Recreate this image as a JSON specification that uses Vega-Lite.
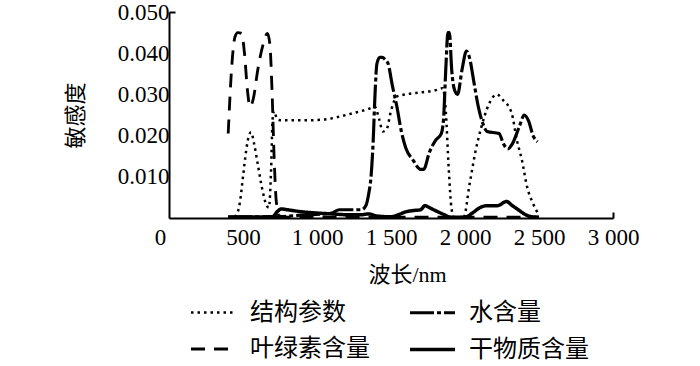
{
  "$schema": "https://vega.github.io/schema/vega-lite/v6.json",
  "width": 444,
  "height": 206,
  "autosize": {"type": "none"},
  "padding": {"left": 169, "top": 12, "right": 87, "bottom": 148},
  "background": "white",
  "config": {"view": {"stroke": null}},
  "data": {"values": [
    {"s": "结构参数", "x": 400, "y": 0.0},
    {"s": "结构参数", "x": 450, "y": 0.0005},
    {"s": "结构参数", "x": 480, "y": 0.004},
    {"s": "结构参数", "x": 500, "y": 0.010},
    {"s": "结构参数", "x": 520, "y": 0.016},
    {"s": "结构参数", "x": 540, "y": 0.020},
    {"s": "结构参数", "x": 555, "y": 0.0208},
    {"s": "结构参数", "x": 575, "y": 0.018},
    {"s": "结构参数", "x": 600, "y": 0.013},
    {"s": "结构参数", "x": 630, "y": 0.007},
    {"s": "结构参数", "x": 660, "y": 0.003},
    {"s": "结构参数", "x": 675, "y": 0.0025},
    {"s": "结构参数", "x": 690, "y": 0.012},
    {"s": "结构参数", "x": 700, "y": 0.024},
    {"s": "结构参数", "x": 710, "y": 0.026},
    {"s": "结构参数", "x": 730, "y": 0.024},
    {"s": "结构参数", "x": 760, "y": 0.0237},
    {"s": "结构参数", "x": 900, "y": 0.0237},
    {"s": "结构参数", "x": 1050, "y": 0.0239},
    {"s": "结构参数", "x": 1150, "y": 0.0246},
    {"s": "结构参数", "x": 1250, "y": 0.0255},
    {"s": "结构参数", "x": 1350, "y": 0.0265},
    {"s": "结构参数", "x": 1390, "y": 0.027},
    {"s": "结构参数", "x": 1420, "y": 0.024},
    {"s": "结构参数", "x": 1445, "y": 0.021},
    {"s": "结构参数", "x": 1470, "y": 0.0215},
    {"s": "结构参数", "x": 1500, "y": 0.026},
    {"s": "结构参数", "x": 1540, "y": 0.0295},
    {"s": "结构参数", "x": 1600, "y": 0.030},
    {"s": "结构参数", "x": 1700, "y": 0.0305},
    {"s": "结构参数", "x": 1800, "y": 0.031},
    {"s": "结构参数", "x": 1850, "y": 0.0315},
    {"s": "结构参数", "x": 1870, "y": 0.026},
    {"s": "结构参数", "x": 1890, "y": 0.012},
    {"s": "结构参数", "x": 1910, "y": 0.002},
    {"s": "结构参数", "x": 1930, "y": 0.0},
    {"s": "结构参数", "x": 1990, "y": 0.0},
    {"s": "结构参数", "x": 2030, "y": 0.008},
    {"s": "结构参数", "x": 2070, "y": 0.016},
    {"s": "结构参数", "x": 2110, "y": 0.022},
    {"s": "结构参数", "x": 2160, "y": 0.0275},
    {"s": "结构参数", "x": 2215, "y": 0.030},
    {"s": "结构参数", "x": 2260, "y": 0.0285},
    {"s": "结构参数", "x": 2315, "y": 0.0255},
    {"s": "结构参数", "x": 2350, "y": 0.019},
    {"s": "结构参数", "x": 2385, "y": 0.014},
    {"s": "结构参数", "x": 2420, "y": 0.0075},
    {"s": "结构参数", "x": 2460, "y": 0.0035},
    {"s": "结构参数", "x": 2495, "y": 0.001},
    {"s": "水含量", "x": 400, "y": 0.0003},
    {"s": "水含量", "x": 700, "y": 0.0003},
    {"s": "水含量", "x": 900, "y": 0.0007},
    {"s": "水含量", "x": 1100, "y": 0.0012},
    {"s": "水含量", "x": 1150, "y": 0.002},
    {"s": "水含量", "x": 1300, "y": 0.002},
    {"s": "水含量", "x": 1330, "y": 0.003},
    {"s": "水含量", "x": 1350, "y": 0.006},
    {"s": "水含量", "x": 1365, "y": 0.010},
    {"s": "水含量", "x": 1380, "y": 0.019},
    {"s": "水含量", "x": 1392, "y": 0.030},
    {"s": "水含量", "x": 1405, "y": 0.0375},
    {"s": "水含量", "x": 1425, "y": 0.039},
    {"s": "水含量", "x": 1440, "y": 0.039},
    {"s": "水含量", "x": 1460, "y": 0.0385},
    {"s": "水含量", "x": 1480, "y": 0.0375},
    {"s": "水含量", "x": 1510, "y": 0.032},
    {"s": "水含量", "x": 1540, "y": 0.027},
    {"s": "水含量", "x": 1570, "y": 0.021},
    {"s": "水含量", "x": 1600, "y": 0.017},
    {"s": "水含量", "x": 1650, "y": 0.014},
    {"s": "水含量", "x": 1700, "y": 0.0118},
    {"s": "水含量", "x": 1720, "y": 0.0118},
    {"s": "水含量", "x": 1760, "y": 0.016},
    {"s": "水含量", "x": 1800, "y": 0.0188},
    {"s": "水含量", "x": 1840, "y": 0.0205},
    {"s": "水含量", "x": 1855, "y": 0.024},
    {"s": "水含量", "x": 1870, "y": 0.036},
    {"s": "水含量", "x": 1885, "y": 0.045},
    {"s": "水含量", "x": 1895, "y": 0.045},
    {"s": "水含量", "x": 1910, "y": 0.036},
    {"s": "水含量", "x": 1930, "y": 0.031},
    {"s": "水含量", "x": 1950, "y": 0.030},
    {"s": "水含量", "x": 1980, "y": 0.036},
    {"s": "水含量", "x": 2010, "y": 0.0405},
    {"s": "水含量", "x": 2030, "y": 0.039},
    {"s": "水含量", "x": 2060, "y": 0.033},
    {"s": "水含量", "x": 2090, "y": 0.027},
    {"s": "水含量", "x": 2120, "y": 0.023},
    {"s": "水含量", "x": 2150, "y": 0.021},
    {"s": "水含量", "x": 2230, "y": 0.0205},
    {"s": "水含量", "x": 2260, "y": 0.018},
    {"s": "水含量", "x": 2290, "y": 0.0168},
    {"s": "水含量", "x": 2320, "y": 0.018},
    {"s": "水含量", "x": 2370, "y": 0.0225},
    {"s": "水含量", "x": 2400, "y": 0.025},
    {"s": "水含量", "x": 2430, "y": 0.0235},
    {"s": "水含量", "x": 2460, "y": 0.020},
    {"s": "水含量", "x": 2490, "y": 0.0185},
    {"s": "叶绿素含量", "x": 400, "y": 0.0205},
    {"s": "叶绿素含量", "x": 424, "y": 0.0368},
    {"s": "叶绿素含量", "x": 446, "y": 0.044},
    {"s": "叶绿素含量", "x": 465, "y": 0.045},
    {"s": "叶绿素含量", "x": 490, "y": 0.0448},
    {"s": "叶绿素含量", "x": 510, "y": 0.040},
    {"s": "叶绿素含量", "x": 530, "y": 0.031},
    {"s": "叶绿素含量", "x": 548, "y": 0.027},
    {"s": "叶绿素含量", "x": 570, "y": 0.029},
    {"s": "叶绿素含量", "x": 600, "y": 0.036},
    {"s": "叶绿素含量", "x": 635, "y": 0.042},
    {"s": "叶绿素含量", "x": 665, "y": 0.0448},
    {"s": "叶绿素含量", "x": 682, "y": 0.042},
    {"s": "叶绿素含量", "x": 697, "y": 0.030},
    {"s": "叶绿素含量", "x": 710, "y": 0.015},
    {"s": "叶绿素含量", "x": 725, "y": 0.004},
    {"s": "叶绿素含量", "x": 745, "y": 0.0005},
    {"s": "叶绿素含量", "x": 800, "y": 0.0002},
    {"s": "叶绿素含量", "x": 1500, "y": 0.0002},
    {"s": "叶绿素含量", "x": 2000, "y": 0.0002},
    {"s": "叶绿素含量", "x": 2500, "y": 0.0002},
    {"s": "干物质含量", "x": 400, "y": 0.0002},
    {"s": "干物质含量", "x": 700, "y": 0.0003},
    {"s": "干物质含量", "x": 730, "y": 0.0015},
    {"s": "干物质含量", "x": 760, "y": 0.0022},
    {"s": "干物质含量", "x": 800, "y": 0.002},
    {"s": "干物质含量", "x": 900, "y": 0.0015},
    {"s": "干物质含量", "x": 1000, "y": 0.0012},
    {"s": "干物质含量", "x": 1100, "y": 0.001},
    {"s": "干物质含量", "x": 1200, "y": 0.0008},
    {"s": "干物质含量", "x": 1300, "y": 0.0008},
    {"s": "干物质含量", "x": 1350, "y": 0.001},
    {"s": "干物质含量", "x": 1400, "y": 0.0005},
    {"s": "干物质含量", "x": 1500, "y": 0.0003},
    {"s": "干物质含量", "x": 1550, "y": 0.0008},
    {"s": "干物质含量", "x": 1600, "y": 0.0015},
    {"s": "干物质含量", "x": 1650, "y": 0.0018},
    {"s": "干物质含量", "x": 1700, "y": 0.002},
    {"s": "干物质含量", "x": 1730, "y": 0.003},
    {"s": "干物质含量", "x": 1760, "y": 0.0025},
    {"s": "干物质含量", "x": 1800, "y": 0.0018},
    {"s": "干物质含量", "x": 1860, "y": 0.0008},
    {"s": "干物质含量", "x": 1900, "y": 0.0002},
    {"s": "干物质含量", "x": 2000, "y": 0.0002},
    {"s": "干物质含量", "x": 2050, "y": 0.0012},
    {"s": "干物质含量", "x": 2100, "y": 0.0025},
    {"s": "干物质含量", "x": 2150, "y": 0.003},
    {"s": "干物质含量", "x": 2220, "y": 0.003},
    {"s": "干物质含量", "x": 2280, "y": 0.004},
    {"s": "干物质含量", "x": 2320, "y": 0.003},
    {"s": "干物质含量", "x": 2360, "y": 0.002},
    {"s": "干物质含量", "x": 2400, "y": 0.001},
    {"s": "干物质含量", "x": 2450, "y": 0.0003},
    {"s": "干物质含量", "x": 2500, "y": 0.0002}
  ]},
  "mark": {"type": "line", "interpolate": "monotone", "clip": true},
  "encoding": {
    "x": {
      "field": "x", "type": "quantitative",
      "scale": {"domain": [0, 3000], "nice": false},
      "axis": {
        "values": [0, 500, 1000, 1500, 2000, 2500, 3000],
        "labelExpr": "datum.value < 1000 ? '' + datum.value : floor(datum.value / 1000) + ' ' + (datum.value % 1000 == 0 ? '000' : '500')",
        "labelOverlap": false,
        "labelFlush": false,
        "grid": false,
        "domainColor": "black", "domainWidth": 2,
        "tickSize": -6, "tickColor": "black", "tickWidth": 2,
        "tickOpacity": {"condition": {"test": "datum.value === 3000", "value": 1}, "value": 0},
        "labelOffset": {"condition": {"test": "datum.value === 0", "value": -9}, "value": 0},
        "labelPadding": 14,
        "labelFont": "Liberation Serif", "labelFontSize": 23, "labelColor": "black",
        "title": "波长/nm",
        "titleFont": "Liberation Serif, Noto Sans CJK SC", "titleFontSize": 22, "titleFontWeight": "normal", "titleColor": "black",
        "titleX": 238, "titleY": 56, "titleBaseline": "middle", "titleAlign": "center"
      }
    },
    "y": {
      "field": "y", "type": "quantitative",
      "scale": {"domain": [0, 0.05], "nice": false},
      "axis": {
        "values": [0.01, 0.02, 0.03, 0.04, 0.05],
        "format": ".3f",
        "labelOverlap": false,
        "labelFlush": false,
        "grid": false,
        "domainColor": "black", "domainWidth": 2,
        "tickSize": -6, "tickColor": "black", "tickWidth": 2,
        "tickOpacity": {"condition": {"test": "datum.value === 0.05", "value": 1}, "value": 0},
        "labelPadding": 6,
        "labelFont": "Liberation Serif", "labelFontSize": 23, "labelColor": "black",
        "title": "敏感度",
        "titleFont": "Noto Sans CJK SC", "titleFontSize": 22, "titleFontWeight": "normal", "titleColor": "black",
        "titleX": -94, "titleY": 103, "titleAngle": -90, "titleBaseline": "middle", "titleAlign": "center"
      }
    },
    "color": {
      "field": "s", "type": "nominal",
      "scale": {"domain": ["结构参数", "叶绿素含量", "水含量", "干物质含量"], "range": ["black", "black", "black", "black"]},
      "legend": {
        "title": null, "orient": "none", "legendX": 20, "legendY": 276,
        "columns": 2, "columnPadding": 33, "rowPadding": -7,
        "symbolType": "stroke", "symbolSize": 2025,
        "labelFont": "Noto Sans CJK SC", "labelFontSize": 24, "labelColor": "black", "labelOffset": 12, "labelLimit": 200
      }
    },
    "strokeDash": {
      "field": "s", "type": "nominal",
      "scale": {"domain": ["结构参数", "叶绿素含量", "水含量", "干物质含量"], "range": [[2.5, 4], [14, 9], [24, 3, 4, 3], [1, 0]]},
      "legend": {
        "title": null, "orient": "none", "legendX": 20, "legendY": 276,
        "columns": 2, "columnPadding": 33, "rowPadding": -7,
        "symbolType": "stroke", "symbolSize": 2025,
        "labelFont": "Noto Sans CJK SC", "labelFontSize": 24, "labelColor": "black", "labelOffset": 12, "labelLimit": 200
      }
    },
    "strokeWidth": {
      "field": "s", "type": "nominal",
      "scale": {"domain": ["结构参数", "叶绿素含量", "水含量", "干物质含量"], "range": [2.5, 3.5, 7, 2.5]},
      "legend": {
        "title": null, "orient": "none", "legendX": 20, "legendY": 276,
        "columns": 2, "columnPadding": 33, "rowPadding": -7,
        "symbolType": "stroke", "symbolSize": 2025,
        "labelFont": "Noto Sans CJK SC", "labelFontSize": 24, "labelColor": "black", "labelOffset": 12, "labelLimit": 200
      }
    },
    "order": {"field": "x", "type": "quantitative"}
  }
}
